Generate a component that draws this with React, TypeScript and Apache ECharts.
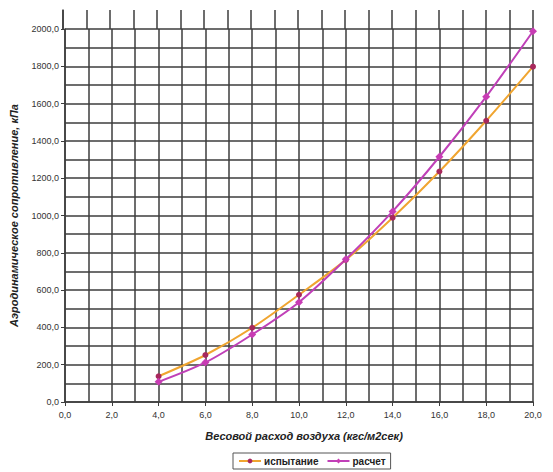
import React, { useEffect, useRef } from "react";
import * as echarts from "echarts";

const xValues = [4, 6, 8, 10, 12, 14, 16, 18, 20];
const testValues = [138, 252, 398, 575, 762, 988, 1236, 1508, 1798];
const calcValues = [108, 212, 362, 535, 765, 1022, 1315, 1637, 1988];
const seriesNames = ["испытание", "расчет"];
const xTitle = "Весовой расход воздуха (кгс/м2сек)";
const yTitle = "Аэродинамическое сопротивление, кПа";

const gridColor = "#3c3c3c";
const fmt = (v: number) => v.toFixed(1).replace(".", ",");

export default function App() {
  const ref = useRef<HTMLDivElement>(null);
  useEffect(() => {
    if (!ref.current) return;
    const chart = echarts.init(ref.current, null, { renderer: "svg" });
    const lineStyleGrid = { color: gridColor, width: 1.5 };
    chart.setOption({
      animation: false,
      backgroundColor: "#ffffff",
      textStyle: { fontFamily: "Liberation Sans, Arial, sans-serif" },
      grid: [
        { left: 63, right: 20, top: 29, bottom: 70 },
        { left: 63, right: 20, top: 10, height: 19 },
      ],
      xAxis: [
        {
          type: "value",
          gridIndex: 0,
          min: 0,
          max: 20,
          interval: 2,
          name: xTitle,
          nameLocation: "middle",
          nameGap: 28,
          nameTextStyle: { fontSize: 11, fontWeight: "bold", fontStyle: "italic", color: "#222", padding: [0, 0, 0, 10] },
          axisLine: { show: true, lineStyle: { color: gridColor, width: 1.5 } },
          axisTick: { show: true, length: 4, lineStyle: { color: gridColor } },
          axisLabel: { formatter: fmt, fontSize: 9, color: "#333", margin: 8 },
          splitLine: { show: true, lineStyle: lineStyleGrid },
          minorTick: { show: false, splitNumber: 2 },
          minorSplitLine: { show: true, lineStyle: lineStyleGrid },
        },
        {
          type: "value",
          gridIndex: 1,
          min: 0,
          max: 20,
          interval: 2,
          axisLine: { show: false },
          axisTick: { show: false },
          axisLabel: { show: false },
          splitLine: { show: true, lineStyle: lineStyleGrid },
          minorTick: { show: false, splitNumber: 2 },
          minorSplitLine: { show: true, lineStyle: lineStyleGrid },
        },
      ],
      yAxis: [
        {
          type: "value",
          gridIndex: 0,
          min: 0,
          max: 2000,
          interval: 200,
          name: yTitle,
          nameLocation: "middle",
          nameGap: 46,
          nameTextStyle: { fontSize: 11, fontWeight: "bold", fontStyle: "italic", color: "#222" },
          axisLine: { show: true, lineStyle: { color: gridColor, width: 1.5 } },
          axisTick: { show: true, length: 4, lineStyle: { color: gridColor } },
          axisLabel: { formatter: fmt, fontSize: 9, color: "#333", margin: 6 },
          splitLine: { show: true, lineStyle: lineStyleGrid },
          minorTick: { show: false, splitNumber: 2 },
          minorSplitLine: { show: true, lineStyle: lineStyleGrid },
        },
        {
          type: "value",
          gridIndex: 1,
          min: 0,
          max: 1,
          axisLine: { show: true, lineStyle: { color: gridColor, width: 1.5 } },
          axisTick: { show: false },
          axisLabel: { show: false },
          splitLine: { show: false },
        },
      ],
      legend: {
        bottom: 3,
        left: 233,
        data: seriesNames,
        borderColor: "#555",
        borderWidth: 1,
        borderRadius: 0,
        padding: [3, 5],
        itemGap: 8,
        itemWidth: 22,
        itemHeight: 6,
        textStyle: { fontSize: 10, fontWeight: "bold", color: "#222", padding: [0, 0, 0, -2] },
      },
      series: [
        {
          name: seriesNames[0],
          type: "line",
          xAxisIndex: 0,
          yAxisIndex: 0,
          smooth: 0.3,
          data: xValues.map((x, i) => [x, testValues[i]]),
          lineStyle: { color: "#f0a530", width: 2 },
          itemStyle: { color: "#a8285c" },
          symbol: "circle",
          symbolSize: 6,
        },
        {
          name: seriesNames[1],
          type: "line",
          xAxisIndex: 0,
          yAxisIndex: 0,
          smooth: 0.3,
          data: xValues.map((x, i) => [x, calcValues[i]]),
          lineStyle: { color: "#c040b8", width: 2 },
          itemStyle: { color: "#c83cb4" },
          symbol: "diamond",
          symbolSize: 8,
        },
      ],
    });
    return () => chart.dispose();
  }, []);
  return (
    <div
      ref={ref}
      style={{ position: "absolute", left: 0, top: 0, width: 553, height: 472 }}
    />
  );
}
